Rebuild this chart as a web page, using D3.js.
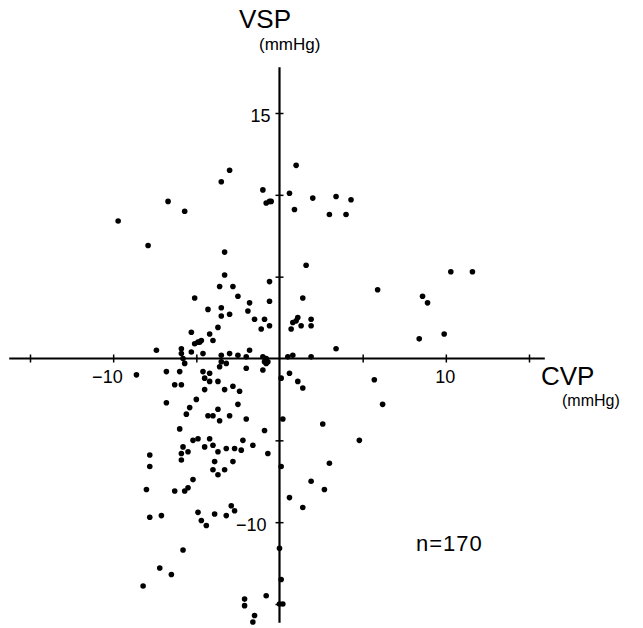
<!DOCTYPE html>
<html>
<head>
<meta charset="utf-8">
<script src="https://cdn.jsdelivr.net/npm/d3@7/dist/d3.min.js"></script>
<style>
  body { margin: 0; background: #fff; }
  text { font-family: "Liberation Sans", Arial, sans-serif; fill: #000; }
</style>
</head>
<body>
<div id="vis"></div>
<script>
// CVP change (x) and VSP change (y), mmHg
var cvp = [-3.0,-3.5,-1.0,0.6,-6.7,-0.8,-0.6,-0.5,-5.7,-9.7,
  -7.9,-3.3,-3.3,-3.6,-2.8,-0.6,-2.5,-5.1,1.0,2.0,
  3.4,4.3,0.9,3.0,4.0,1.6,10.3,11.6,5.9,8.6,
  1.4,-4.3,-3.5,-1.8,-0.6,-3.5,-3.0,-1.9,-1.5,-0.9,
  -3.7,-1.1,-0.6,-5.3,-4.2,-4.0,-5.1,-4.9,-4.8,-4.7,
  -7.4,-5.9,-5.9,-5.3,-4.6,-1.8,-3.5,-3.0,-2.5,-2.0,
  -1.0,-0.8,-0.7,-0.9,-0.8,0.5,0.8,-5.7,-5.8,-3.5,
  -3.2,-3.6,-2.0,-1.0,-8.6,-6.8,-6.0,-4.6,-4.2,-4.5,
  -4.2,-6.3,-5.9,-4.5,-3.3,-2.8,-2.4,0.1,0.6,1.1,
  1.4,-6.8,-5.0,-5.4,-5.6,-2.5,-3.7,-4.3,-4.0,-3.6,
  -3.0,-2.0,0.2,-6.0,-0.9,-5.2,-4.9,-4.2,-2.2,-5.8,
  -5.9,-5.5,-4.5,-4.0,-3.7,-3.2,-2.7,-2.3,-1.6,-0.7,
  -7.8,-5.9,-3.9,-2.8,-7.8,-4.0,-3.3,-3.7,0.1,-5.2,
  -5.5,-5.7,-6.3,-8.0,-2.9,-2.7,-4.9,-3.9,-3.2,-7.1,
  -7.8,-4.7,-4.4,0.0,-5.8,-7.2,-6.5,-8.2,0.1,-0.8,
  -2.1,-2.1,0.0,0.2,-1.5,-1.6,2.6,4.8,3.0,1.9,
  2.7,0.6,1.4,6.2,5.7,0.7,0.8,1.0,1.1,1.3,
  1.9,1.9,1.9,3.4,8.4,9.9,8.9,-3.7];

var vsp = [11.5,10.8,10.3,10.1,9.6,9.5,9.6,9.6,9.0,8.4,
  6.9,6.5,5.1,4.4,4.4,4.7,3.8,3.7,11.8,9.8,
  9.9,9.7,9.1,8.8,8.8,5.7,5.3,5.3,4.2,3.8,
  3.7,3.0,3.1,3.4,3.5,2.6,2.7,2.9,2.4,2.4,
  1.9,1.8,2.0,1.6,1.5,1.1,0.9,1.0,1.0,1.1,
  0.5,0.6,0.3,0.4,0.3,0.5,0.2,0.3,0.2,0.1,
  0.1,0.0,-0.2,-0.2,-0.3,0.1,0.2,-0.3,0.0,-0.2,
  -0.3,-0.5,-0.6,-0.7,-1.0,-0.8,-0.8,-0.8,-0.9,-1.2,
  -1.4,-1.6,-1.6,-1.9,-1.9,-1.7,-2.0,-1.2,-0.9,-1.4,
  -1.8,-2.7,-2.5,-3.0,-3.4,-2.8,-3.1,-3.5,-3.5,-3.8,
  -3.5,-3.7,-3.7,-4.3,-4.4,-5.0,-4.9,-4.9,-5.0,-5.4,
  -5.8,-5.7,-5.4,-5.3,-5.7,-5.5,-5.5,-5.6,-5.3,-5.8,
  -5.9,-6.2,-6.3,-6.3,-6.6,-6.8,-6.8,-7.1,-6.6,-7.4,
  -7.9,-8.1,-8.1,-8.0,-9.0,-9.3,-9.4,-9.5,-9.6,-9.6,
  -9.7,-9.9,-10.2,-11.6,-11.7,-12.8,-13.2,-13.9,-13.5,-14.5,
  -14.7,-15.1,-15.0,-15.0,-15.7,-16.1,-4.0,-5.0,-6.4,-7.5,
  -8.0,-8.5,-9.1,-2.8,-1.3,1.8,2.2,2.3,2.5,2.0,
  2.4,2.0,0.1,0.6,1.2,1.5,3.4,-1.4];

var xTicks = [-15, -10, -5, 5, 10, 15];
var yTicks = [-15, -10, -5, 5, 10, 15];
var xTickLabels = {"-10": "\u221210", "10": "10"};
var yTickLabels = {"15": "15", "-10": "\u221210"};
var sampleSize = 170;

var width = 643, height = 628;

var x = d3.scaleLinear().domain([-15, 15]).range([30, 529]);
var y = d3.scaleLinear().domain([-15, 15]).range([604, 113]);

// how far the axis lines run past the outer ticks
var xLineExtent = [-16.25, 15.95];
var yLineExtent = [-16.15, 17.8];

var svg = d3.select("#vis").append("svg")
    .attr("width", width)
    .attr("height", height);

// x axis
var xAxis = svg.append("g")
    .attr("transform", `translate(0,${y(0)})`)
    .call(d3.axisBottom(x).tickValues(xTicks).tickSize(4).tickPadding(8)
      .tickFormat(d => xTickLabels[d] || ""));
xAxis.select(".domain").remove();
xAxis.append("line")
    .attr("x1", x(xLineExtent[0])).attr("x2", x(xLineExtent[1]))
    .attr("stroke", "#000").attr("stroke-width", 2.2);
xAxis.selectAll(".tick line").attr("y1", -4).attr("y2", 4).attr("stroke-width", 1.5);
xAxis.selectAll(".tick text")
    .attr("font-size", 18)
    .attr("font-family", "Liberation Sans, Arial, sans-serif")
    .attr("text-anchor", "end")
    .attr("x", 9);

// y axis
var yAxis = svg.append("g")
    .attr("transform", `translate(${x(0)},0)`)
    .call(d3.axisLeft(y).tickValues(yTicks).tickSize(4).tickPadding(5)
      .tickFormat(d => yTickLabels[d] || ""));
yAxis.select(".domain").remove();
yAxis.append("line")
    .attr("y1", y(yLineExtent[0])).attr("y2", y(yLineExtent[1]))
    .attr("stroke", "#000").attr("stroke-width", 2.2);
yAxis.selectAll(".tick line").attr("x1", -4).attr("x2", 4).attr("stroke-width", 1.5);
yAxis.selectAll(".tick text")
    .attr("font-size", 18)
    .attr("font-family", "Liberation Sans, Arial, sans-serif")
    .attr("dy", "0.45em")
    .attr("x", d => d < 0 ? -13 : -9);

// points
svg.append("g")
  .selectAll("circle")
  .data(cvp.map((c, i) => ({cvp: c, vsp: vsp[i]})))
  .join("circle")
    .attr("cx", d => x(d.cvp))
    .attr("cy", d => y(d.vsp))
    .attr("r", 2.8)
    .attr("fill", "#000");

// axis titles
svg.append("text")
    .attr("x", 239).attr("y", 28)
    .attr("font-size", 26)
    .text("VSP");
svg.append("text")
    .attr("x", 259).attr("y", 50)
    .attr("font-size", 17)
    .text("(mmHg)");

svg.append("text")
    .attr("x", 541).attr("y", 385)
    .attr("font-size", 26)
    .text("CVP");
svg.append("text")
    .attr("x", 562).attr("y", 406)
    .attr("font-size", 16)
    .text("(mmHg)");

svg.append("text")
    .attr("x", 416).attr("y", 551)
    .attr("font-size", 22)
    .attr("letter-spacing", 1)
    .text("n=" + sampleSize);
</script>
</body>
</html>
